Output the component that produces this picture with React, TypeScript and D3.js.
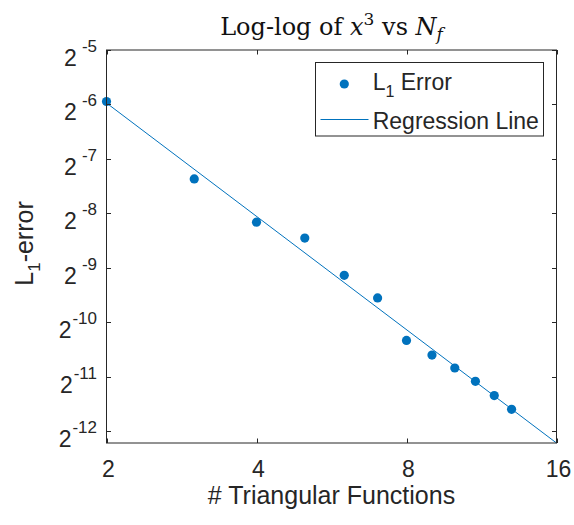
import React, {Component} from 'react';
import * as d3 from "d3";

// number of triangular basis functions and the measured L1 error
const nFunctions = [2, 3, 4, 5, 6, 7, 8, 9, 10, 11, 12, 13];
const l1Errors = [0.01623, 0.006066, 0.003498, 0.002857, 0.001780, 0.001335,
    0.0007777, 0.0006455, 0.0005474, 0.0004623, 0.0003853, 0.0003235];

const xTickValues = [2, 4, 8, 16];
const yTickExponents = [-5, -6, -7, -8, -9, -10, -11, -12];
const legendLabels = ["Error", "Regression Line"];

const W = 574;
const H = 525;
const blue = "#0072BD";
const axisColor = "#262626";
const sans = "'Liberation Sans', Arial, sans-serif";

class App extends Component {
  el: any = null;

  createSVG() {
    const holder = d3.select(this.el);
    holder.selectAll("*").remove();
    return holder
        .append("svg")
        .attr("width", W)
        .attr("height", H)
        .style("position", "absolute")
        .style("left", 0)
        .style("top", 0)
        .style("background", "white");
  }

  drawChart(svg: any) {
    const left = 106.5, right = 556.5, top = 50, bottom = 443;

    // least squares fit in log2-log2 space
    const lx = nFunctions.map(Math.log2);
    const ly = l1Errors.map(Math.log2);
    const mx = d3.mean(lx) as number;
    const my = d3.mean(ly) as number;
    const sxy = d3.sum(lx, (v, i) => (v - mx) * (ly[i] - my));
    const sxx = d3.sum(lx, v => (v - mx) * (v - mx));
    const slope = sxy / sxx;
    const icept = my - slope * mx;
    const fit = (n: number) => Math.pow(2, icept + slope * Math.log2(n));

    const x = d3.scaleLog().base(2).domain([2, 16]).range([left, right]);
    const y = d3.scaleLog().base(2).domain([fit(16), Math.pow(2, -5)]).range([bottom, top]);

    svg.append("rect").attr("width", W).attr("height", H).attr("fill", "white");

    // regression line
    const lineGen = d3.line<number>().x(d => x(d)).y(d => y(fit(d)));
    svg.append("path")
        .attr("d", lineGen([2, 16]))
        .attr("fill", "none")
        .attr("stroke", blue)
        .attr("stroke-width", 1);

    // data points
    svg.selectAll("circle.pt")
        .data(nFunctions)
        .join("circle")
        .attr("class", "pt")
        .attr("cx", d => x(d))
        .attr("cy", (d, i) => y(l1Errors[i]))
        .attr("r", 4.6)
        .attr("fill", blue);

    // axes box
    svg.append("rect")
        .attr("x", left).attr("y", top)
        .attr("width", right - left).attr("height", bottom - top)
        .attr("fill", "none")
        .attr("stroke", axisColor)
        .attr("stroke-width", 1);

    const tickLen = 4.5;
    xTickValues.forEach(v => {
      const px = Math.round(x(v)) + 0.5;
      svg.append("line").attr("x1", px).attr("x2", px).attr("y1", bottom).attr("y2", bottom - tickLen).attr("stroke", axisColor);
      svg.append("line").attr("x1", px).attr("x2", px).attr("y1", top).attr("y2", top + tickLen).attr("stroke", axisColor);
      svg.append("text")
          .attr("x", x(v) + 2)
          .attr("y", 477)
          .attr("text-anchor", "middle")
          .attr("font-family", sans)
          .attr("font-size", 23)
          .attr("fill", axisColor)
          .text(v);
    });

    yTickExponents.forEach(e => {
      const py = Math.round(y(Math.pow(2, e))) + 0.5;
      svg.append("line").attr("x1", left).attr("x2", left + tickLen).attr("y1", py).attr("y2", py).attr("stroke", axisColor);
      svg.append("line").attr("x1", right).attr("x2", right - tickLen).attr("y1", py).attr("y2", py).attr("stroke", axisColor);
      const t = svg.append("text")
          .attr("x", 97)
          .attr("y", py + 15)
          .attr("text-anchor", "end")
          .attr("font-family", sans)
          .attr("fill", axisColor);
      t.append("tspan").attr("font-size", 23).text("2");
      t.append("tspan")
          .attr("font-size", 17)
          .attr("dy", -14)
          .attr("dx", e > -10 ? 5 : 1)
          .text(String(e));
    });

    // axis labels
    svg.append("text")
        .attr("x", (left + right) / 2)
        .attr("y", 504)
        .attr("text-anchor", "middle")
        .attr("font-family", sans)
        .attr("font-size", 25)
        .attr("fill", axisColor)
        .text("# Triangular Functions");

    const yl = svg.append("text")
        .attr("transform", `translate(33,${(top + bottom) / 2 - 3}) rotate(-90)`)
        .attr("text-anchor", "middle")
        .attr("font-family", sans)
        .attr("font-size", 25)
        .attr("fill", axisColor);
    yl.append("tspan").text("L");
    yl.append("tspan").attr("font-size", 17).attr("dy", 7).text("1");
    yl.append("tspan").attr("dy", -7).text("-error");

    // title (latex style)
    const tt = svg.append("text")
        .attr("x", (left + right) / 2)
        .attr("y", 35)
        .attr("text-anchor", "middle")
        .attr("font-family", "'DejaVu Serif', 'Liberation Serif', serif")
        .attr("font-size", 24)
        .attr("fill", "#111");
    tt.append("tspan").text("Log-log of ");
    tt.append("tspan").attr("font-style", "italic").text("x");
    tt.append("tspan").attr("font-size", 17).attr("dy", -10).text("3");
    tt.append("tspan").attr("dy", 10).text(" vs ");
    tt.append("tspan").attr("font-style", "italic").text("N");
    tt.append("tspan").attr("font-style", "italic").attr("font-size", 17).attr("dy", 5).text("f");

    // legend
    const lg = svg.append("g");
    lg.append("rect")
        .attr("x", 315.5).attr("y", 62.5)
        .attr("width", 228).attr("height", 73.5)
        .attr("fill", "white")
        .attr("stroke", axisColor)
        .attr("stroke-width", 1);
    lg.append("circle").attr("cx", 344.3).attr("cy", 84).attr("r", 4.6).attr("fill", blue);
    lg.append("line")
        .attr("x1", 320.5).attr("x2", 368.5)
        .attr("y1", 119.5).attr("y2", 119.5)
        .attr("stroke", blue).attr("stroke-width", 1);
    const l1 = lg.append("text")
        .attr("x", 372.7).attr("y", 90)
        .attr("font-family", sans).attr("font-size", 23).attr("fill", axisColor);
    l1.append("tspan").text("L");
    l1.append("tspan").attr("font-size", 16).attr("dy", 7).text("1");
    l1.append("tspan").attr("dy", -7).text(" " + legendLabels[0]);
    lg.append("text")
        .attr("x", 372.7).attr("y", 128.5)
        .attr("font-family", sans).attr("font-size", 23).attr("fill", axisColor)
        .text(legendLabels[1]);
  }

  componentDidMount = () => {
    let svg = this.createSVG();
    this.drawChart(svg);
  }

  render() {
    return (
        <div ref={el => { this.el = el; }}></div>
    );
  }
}

export default App;
